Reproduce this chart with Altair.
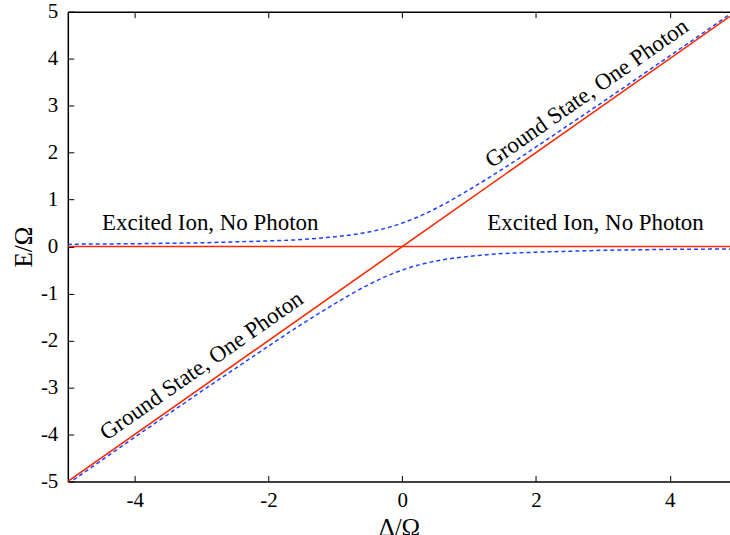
import altair as alt
import pandas as pd

# red (uncoupled) lines
line_delta = [-5.0, 4.9]
photon_E = [-5.0, 4.9]
excited_E = [0.0, 0.0]

# blue dashed (dressed) curves
delta = [-5, -4.5, -4, -3.5, -3, -2.5, -2, -1.5, -1, -0.75, -0.5, -0.25, 0,
         0.25, 0.5, 0.75, 1, 1.5, 2, 2.5, 3, 3.5, 4, 4.5, 4.9]
upper = [0.05, 0.055, 0.06, 0.07, 0.08, 0.10, 0.12, 0.15, 0.21, 0.25, 0.31, 0.39, 0.50,
         0.64, 0.81, 1.00, 1.21, 1.65, 2.12, 2.60, 3.08, 3.57, 4.06, 4.55, 4.95]
lower = [-5.05, -4.555, -4.06, -3.57, -3.08, -2.60, -2.12, -1.65, -1.21, -1.00, -0.81, -0.64, -0.50,
         -0.39, -0.31, -0.25, -0.21, -0.15, -0.12, -0.10, -0.08, -0.07, -0.06, -0.055, -0.05]

# annotations
label_text = ["Excited Ion, No Photon", "Excited Ion, No Photon",
              "Ground State, One Photon", "Ground State, One Photon"]
label_x = [-2.87, 2.89, -3.0, 2.76]
label_y = [0.5, 0.5, -2.54, 3.26]
label_angle = [0, 0, 325, 325]

x_ticks = [-4, -2, 0, 2, 4]
y_ticks = [-5, -4, -3, -2, -1, 0, 1, 2, 3, 4, 5]

FONT = "Liberation Serif"

red_df = pd.DataFrame({
    "d": line_delta * 2,
    "E": photon_E + excited_E,
    "s": ["photon"] * 2 + ["excited"] * 2,
})
blue_df = pd.DataFrame({
    "d": delta * 2,
    "E": upper + lower,
    "s": ["upper"] * len(delta) + ["lower"] * len(delta),
})
lab_df = pd.DataFrame({"t": label_text, "d": label_x, "E": label_y, "a": label_angle})

xscale = alt.Scale(domain=[-5, 4.9], nice=False, zero=False)
yscale = alt.Scale(domain=[-5, 5], nice=False, zero=False)

common_axis = dict(
    domainColor="black", domainWidth=1.5, tickColor="black", tickWidth=1,
    tickSize={"expr": "-6"}, grid=False, labelFont=FONT, labelFontSize=21,
    labelColor="black", titleFont=FONT, titleFontSize=25, titleFontWeight="normal",
    titleColor="black", labelExpr="'' + datum.value",
)

x_bottom = alt.X("d:Q", scale=xscale, axis=alt.Axis(
    values=x_ticks, title="Δ/Ω", labelPadding=14, titlePadding=5, **common_axis))
x_top = alt.X("d:Q", scale=xscale, axis=alt.Axis(
    values=x_ticks, orient="top", labels=False, title=None, **common_axis))
x_none = alt.X("d:Q", scale=xscale, axis=None)
y_left = alt.Y("E:Q", scale=yscale, axis=alt.Axis(
    values=y_ticks, title="E/Ω", labelPadding=16, titlePadding=4, **common_axis))

blue = alt.Chart(blue_df).mark_line(
    color="#1f3fff", strokeWidth=1.5, strokeDash=[4, 3], interpolate="monotone", clip=True
).encode(x=x_bottom, y=y_left, detail="s:N")

red = alt.Chart(red_df).mark_line(
    color="#ff2a00", strokeWidth=1.6, clip=True
).encode(x=x_top, y=y_left, detail="s:N")

labels = alt.Chart(lab_df).mark_text(
    font=FONT, fontSize=23, color="black", align="center", baseline="middle"
).encode(x=x_none, y=y_left, text="t:N", angle=alt.Angle("a:Q", scale=None))

chart = alt.layer(blue, red, labels).resolve_axis(x="independent").properties(
    width=664, height=471,
    padding={"left": 68, "top": 11, "right": 0, "bottom": 53},
    autosize=alt.AutoSizeParams(type="none"),
    background="white",
).configure_view(stroke=None)

chart.save("out.html", embed_options={"renderer": "svg", "actions": False})
